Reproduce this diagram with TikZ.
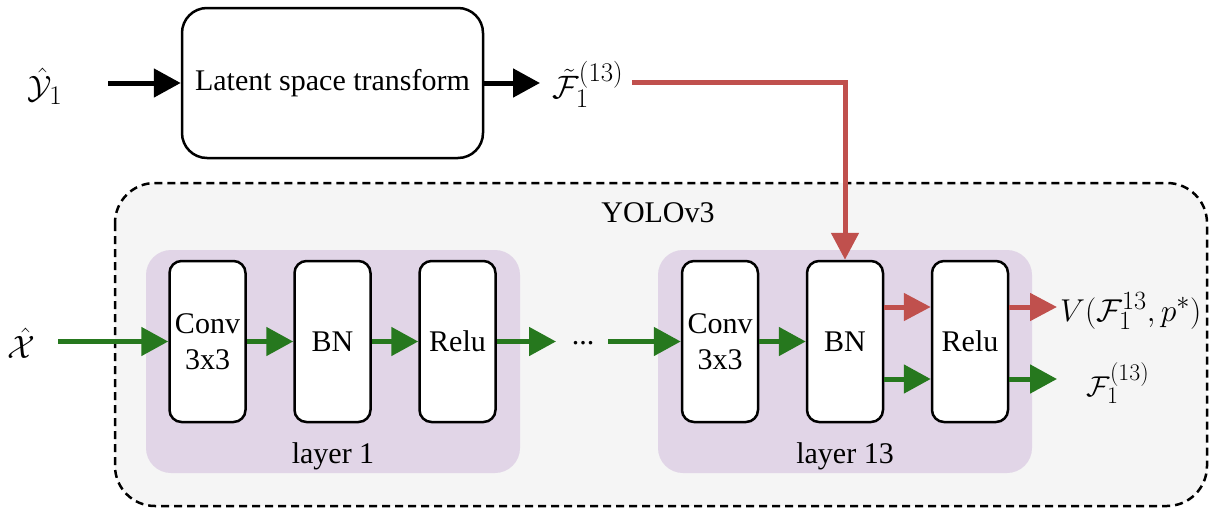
\documentclass[tikz,border=0pt]{standalone}
\usepackage{graphicx}
\usepackage{fontspec}
\setmainfont{Liberation Serif}
\usetikzlibrary{arrows.meta,calc}
\definecolor{arrgreen}{RGB}{38,120,30}
\definecolor{arrred}{RGB}{192,80,77}
\definecolor{layfill}{RGB}{225,213,231}
\definecolor{yolofill}{RGB}{245,245,245}
\newcommand{\mathbigger}[2]{\scalebox{#1}{$#2$}}
\begin{document}
\begin{tikzpicture}[x=1pt,y=-1pt,
  blk/.style={draw=black, line width=2.5pt, fill=white, rounded corners=12pt,
    minimum width=76pt, minimum height=161pt, inner sep=0pt, align=center,
    font=\fontsize{30}{36}\selectfont},
  lbl/.style={inner sep=0pt, font=\fontsize{30}{36}\selectfont},
  mlbl/.style={inner sep=0pt, font=\fontsize{24.88}{30}\selectfont},
  barr/.style={black, line width=5pt, -{Triangle[length=27pt,width=28pt]}},
  garr/.style={arrgreen, line width=5pt, -{Triangle[length=27pt,width=28pt]}},
  rarr/.style={arrred, line width=5pt, -{Triangle[length=27pt,width=27pt]}}]
\useasboundingbox (0,0) rectangle (1221,517);
% YOLOv3 container
\draw[fill=yolofill, line width=2.5pt, dash pattern=on 8pt off 5pt, rounded corners=40pt]
  (115,183) rectangle (1207,506);
\node[lbl] (yolo) at (658,213) {YOLOv3};
% layer backgrounds
\fill[layfill, rounded corners=25pt] (146,250) rectangle (520,473);
\fill[layfill, rounded corners=25pt] (658,250) rectangle (1032,473);
\node[lbl] (l1) at (333,456) {layer 1};
\node[lbl] (l13) at (845,456) {layer 13};
% top block
\node[draw=black, line width=2.5pt, fill=white, rounded corners=25pt,
  minimum width=301pt, minimum height=150pt, inner sep=0pt,
  font=\fontsize{30}{36}\selectfont] (lst) at (332.5,83) {Latent space transform};
\node[mlbl] (yin) at (45,86) {\mathbigger{1.3}{\hat{\mathcal{Y}}_1}};
\coordinate (ystart) at (108,83);
\draw[barr] (ystart) -- (lst.west);
\coordinate (ftip) at (540,83);
\draw[barr] (lst.east) -- (ftip);
\node[mlbl] (ft) at (588,84) {\mathbigger{1.3}{\tilde{\mathcal{F}}_1^{(13)}}};
% layer 1 blocks
\node[blk] (c1) at (207.5,341.5) {Conv\\3x3};
\node[blk] (b1) at (332.5,341.5) {BN};
\node[blk] (r1) at (457.5,341.5) {Relu};
% layer 13 blocks
\node[blk] (c13) at (720,341.5) {Conv\\3x3};
\node[blk] (b13) at (845,341.5) {BN};
\node[blk] (r13) at (970,341.5) {Relu};
% input
\node[mlbl] (xin) at (21,343) {\mathbigger{1.3}{\hat{\mathcal{X}}}};
\coordinate (xstart) at (58,341.5);
\draw[garr] (xstart) -- (c1.west);
\draw[garr] (c1) -- (b1);
\draw[garr] (b1) -- (r1);
\coordinate (d1) at (556,341.5);
\draw[garr] (r1) -- (d1);
\node[lbl] (dots) at (583,343) {...};
\coordinate (d2) at (608,341.5);
\draw[garr] (d2) -- (c13.west);
\draw[garr] (c13) -- (b13);
% split outputs
\coordinate (ry) at (0,307);
\coordinate (gy) at (0,379);
\draw[rarr] (b13.east |- ry) -- (r13.west |- ry);
\draw[garr] (b13.east |- gy) -- (r13.west |- gy);
\coordinate (vtip) at (1057,307);
\coordinate (ftip2) at (1057,379);
\draw[rarr] (r13.east |- ry) -- (vtip);
\draw[garr] (r13.east |- gy) -- (ftip2);
\node[mlbl, anchor=west] (vout) at (1060,311) {\mathbigger{1.27}{V(\mathcal{F}_1^{13},p^{*})}};
\node[mlbl] (fout) at (1118,383) {\mathbigger{1.15}{\mathcal{F}_1^{(13)}}};
% red feed
\coordinate (rstart) at (632,82);
\draw[rarr] (rstart) -| (b13.north);
\end{tikzpicture}
\end{document}
